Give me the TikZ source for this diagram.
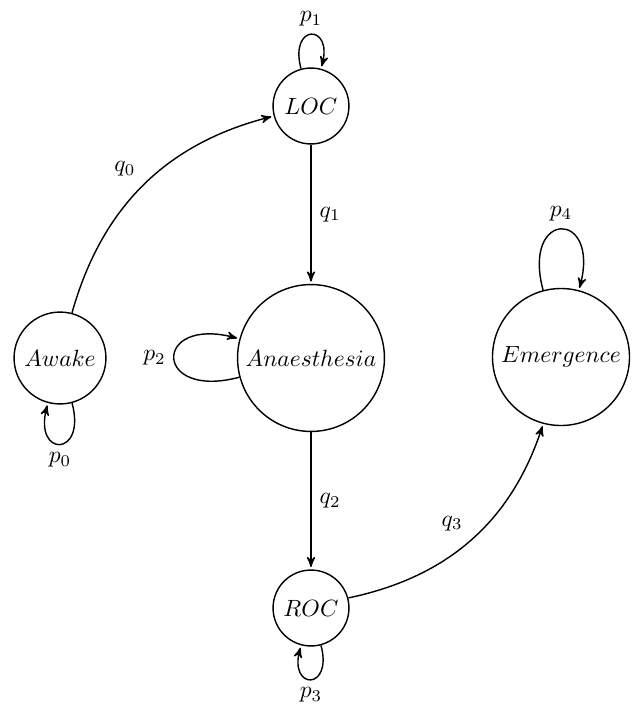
\documentclass[tikz,border=0pt]{standalone}
\usetikzlibrary{arrows,automata}
\begin{document}
\begin{tikzpicture}[x=0.4255pt,y=0.4255pt,
  >=stealth',shorten >=1pt,semithick,auto,
  every state/.style={draw,circle,inner sep=0pt,fill=none},
  smallstate/.style={state,minimum size=32.3pt},
  arr/.style={->},
  lp/.style={loop,looseness=6,min distance=2mm}]
\useasboundingbox (0,0) rectangle (633,-704);
\node[smallstate] (LOC) at (311,-106) {$LOC$};
\node[state,minimum size=39.1pt] (Awake) at (60,-358) {$Awake$};
\node[state,minimum size=62.5pt] (Anaes) at (311,-358) {$Anaesthesia$};
\node[state,minimum size=58.3pt] (Emerg) at (561,-357) {$Emergence$};
\node[smallstate] (ROC) at (311,-608) {$ROC$};

\path[arr] (Awake) edge[bend left] node (lq0) {$q_0$} (LOC)
  (LOC) edge node (lq1) {$q_1$} (Anaes)
  (Anaes) edge node (lq2) {$q_2$} (ROC)
  (ROC) edge[bend right] node (lq3) {$q_3$} (Emerg);

\path[arr] (LOC) edge[lp,out=105,in=75] node[above] (lp1) {$p_1$} (LOC)
  (Awake) edge[lp,out=285,in=255] node[below] (lp0) {$p_0$} (Awake)
  (Anaes) edge[lp,out=195,in=165] node[left] (lp2) {$p_2$} (Anaes)
  (ROC) edge[lp,out=285,in=255] node[below] (lp3) {$p_3$} (ROC)
  (Emerg) edge[lp,out=105,in=75] node[above] (lp4) {$p_4$} (Emerg);
\end{tikzpicture}
\end{document}
